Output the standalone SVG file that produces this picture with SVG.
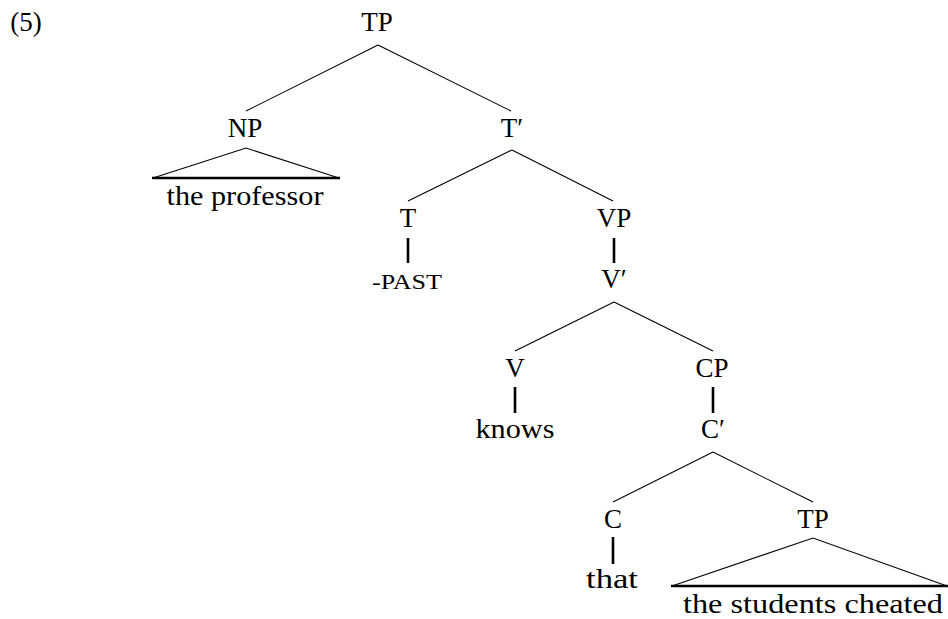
<svg xmlns="http://www.w3.org/2000/svg" width="948" height="619" viewBox="0 0 948 619">
<style>
text{font-family:'Liberation Serif','DejaVu Serif','Times New Roman',serif;font-size:27px;fill:#000;text-anchor:middle}
.sc{font-size:20px}
.thin{stroke:#000;stroke-width:1.1;fill:none}
.thick{stroke:#000;stroke-width:2.6;fill:none}
</style>
<rect width="948" height="619" fill="#fff"/>
<g font-family="Liberation Serif, DejaVu Serif, serif">
<text x="26" y="31">(5)</text>
<g id="connectors">
<line class="thin" x1="378" y1="45" x2="246" y2="111"/>
<line class="thin" x1="378" y1="45" x2="511" y2="111"/>
<polyline class="thin" points="153,178 246,148 339,178"/>
<line class="thick" x1="152" y1="178" x2="340" y2="178"/>
<line class="thin" x1="512" y1="150" x2="408" y2="201"/>
<line class="thin" x1="512" y1="150" x2="613" y2="201"/>
<line class="thick" x1="408" y1="238" x2="408" y2="263"/>
<line class="thick" x1="614" y1="238" x2="614" y2="263"/>
<line class="thin" x1="614" y1="302" x2="515" y2="351"/>
<line class="thin" x1="614" y1="302" x2="713" y2="351"/>
<line class="thick" x1="515" y1="387" x2="515" y2="413"/>
<line class="thick" x1="713" y1="387" x2="713" y2="413"/>
<line class="thin" x1="713" y1="452" x2="613" y2="502"/>
<line class="thin" x1="713" y1="452" x2="813" y2="502"/>
<line class="thick" x1="613" y1="537" x2="613" y2="564"/>
<polyline class="thin" points="672,586 813,538 947,586"/>
<line class="thick" x1="671" y1="586" x2="948" y2="586"/>
</g>
<g id="tp"><text x="377" y="31">TP</text></g>
<g id="np"><text x="245" y="137">NP</text></g>
<g id="np-leaf"><text x="245" y="205" textLength="157" lengthAdjust="spacingAndGlyphs">the professor</text></g>
<g id="tbar"><text x="512" y="137">T′</text></g>
<g id="t"><text x="408" y="227">T</text></g>
<g id="past"><text class="sc" x="407" y="289" textLength="70" lengthAdjust="spacingAndGlyphs">-PAST</text></g>
<g id="vp"><text x="614" y="227">VP</text></g>
<g id="vbar"><text x="614" y="288">V′</text></g>
<g id="v"><text x="515" y="377">V</text></g>
<g id="knows"><text x="515" y="438" textLength="79" lengthAdjust="spacingAndGlyphs">knows</text></g>
<g id="cp"><text x="712" y="377">CP</text></g>
<g id="cbar"><text x="713" y="438">C′</text></g>
<g id="c"><text x="613" y="528">C</text></g>
<g id="that"><text x="612" y="588" textLength="52" lengthAdjust="spacingAndGlyphs">that</text></g>
<g id="tp2"><text x="813" y="528">TP</text></g>
<g id="tp2-leaf"><text x="813" y="613" textLength="260" lengthAdjust="spacingAndGlyphs">the students cheated</text></g>
</g>
</svg>
